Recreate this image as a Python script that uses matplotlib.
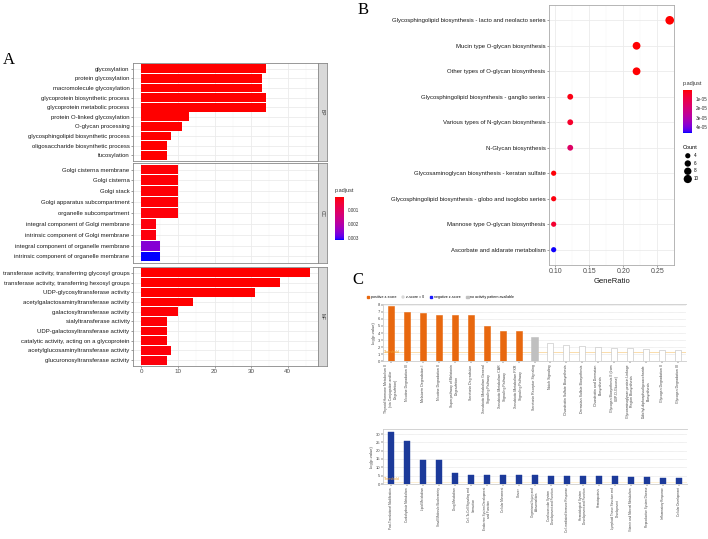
import numpy as np
import matplotlib
matplotlib.use("Agg")
import matplotlib.pyplot as plt
from matplotlib.colors import LinearSegmentedColormap, Normalize
from matplotlib.patches import Patch

plt.rcParams['font.family'] = ['Liberation Sans', 'DejaVu Sans']

# ==========================
# Data - panel A (GO enrichment, counts + p.adjust)
# ==========================
bp_terms = ["glycosylation", "protein glycosylation", "macromolecule glycosylation",
            "glycoprotein biosynthetic process", "glycoprotein metabolic process",
            "protein O-linked glycosylation", "O-glycan processing",
            "glycosphingolipid biosynthetic process", "oligosaccharide biosynthetic process",
            "fucosylation"]
bp_counts = [34, 33, 33, 34, 34, 13, 11, 8, 7, 7]
bp_padj = [1e-5, 1e-5, 1e-5, 1e-5, 1e-5, 2e-5, 2e-5, 3e-5, 4e-5, 5e-5]

cc_terms = ["Golgi cisterna membrane", "Golgi cisterna", "Golgi stack",
            "Golgi apparatus subcompartment", "organelle subcompartment",
            "integral component of Golgi membrane", "intrinsic component of Golgi membrane",
            "integral component of organelle membrane", "intrinsic component of organelle membrane"]
cc_counts = [10, 10, 10, 10, 10, 4, 4, 5, 5]
cc_padj = [1e-4, 1e-4, 1e-4, 1e-4, 1.2e-4, 1.5e-4, 1.5e-4, 0.0026, 0.00314]

mf_terms = ["transferase activity, transferring glycosyl groups",
            "transferase activity, transferring hexosyl groups",
            "UDP-glycosyltransferase activity", "acetylgalactosaminyltransferase activity",
            "galactosyltransferase activity", "sialyltransferase activity",
            "UDP-galactosyltransferase activity", "catalytic activity, acting on a glycoprotein",
            "acetylglucosaminyltransferase activity", "glucuronosyltransferase activity"]
mf_counts = [46, 38, 31, 14, 10, 7, 7, 7, 8, 7]
mf_padj = [7e-5, 7e-5, 7e-5, 8e-5, 1e-4, 1e-4, 1e-4, 1e-4, 1.2e-4, 1.3e-4]

# ==========================
# Data - panel B (KEGG dot plot)
# ==========================
kegg_terms = ["Glycosphingolipid biosynthesis - lacto and neolacto series",
              "Mucin type O-glycan biosynthesis",
              "Other types of O-glycan biosynthesis",
              "Glycosphingolipid biosynthesis - ganglio series",
              "Various types of N-glycan biosynthesis",
              "N-Glycan biosynthesis",
              "Glycosaminoglycan biosynthesis - keratan sulfate",
              "Glycosphingolipid biosynthesis - globo and isoglobo series",
              "Mannose type O-glycan biosynthesis",
              "Ascorbate and aldarate metabolism"]
kegg_count = [11, 9, 9, 5, 5, 5, 4, 4, 4, 4]
kegg_total = 41
kegg_padj = [3e-7, 5e-7, 5e-7, 2e-6, 5e-6, 1.6e-5, 1e-6, 1.5e-6, 6e-6, 4.6e-5]

# ==========================
# Data - panel C (IPA canonical pathways / functions)
# ==========================
ipa_paths = ["Thyroid Hormone Metabolism II\n(via Conjugation and/or\nDegradation)",
             "Nicotine Degradation III", "Melatonin Degradation I", "Nicotine Degradation II",
             "Superpathway of Melatonin\nDegradation", "Serotonin Degradation",
             "Xenobiotic Metabolism General\nSignaling Pathway",
             "Xenobiotic Metabolism CAR\nSignaling Pathway",
             "Xenobiotic Metabolism PXR\nSignaling Pathway",
             "Serotonin Receptor Signaling", "Notch Signaling",
             "Chondroitin Sulfate Biosynthesis", "Dermatan Sulfate Biosynthesis",
             "Chondroitin and Dermatan\nBiosynthesis",
             "Glycogen Biosynthesis II (from\nUDP-D-Glucose)",
             "Glycoaminoglycan-protein Linkage\nRegion Biosynthesis",
             "Dolichyl-diphosphooligosaccharide\nBiosynthesis",
             "Glycogen Degradation II", "Glycogen Degradation III"]
ipa_logp = [7.8, 6.9, 6.8, 6.6, 6.6, 6.5, 4.95, 4.35, 4.3, 3.5,
            2.56, 2.28, 2.2, 1.96, 1.87, 1.82, 1.73, 1.59, 1.54]
ipa_status = ["pos"] * 9 + ["na"] + ["zero"] * 9

ipa_funcs = ["Post-Translational Modification", "Carbohydrate Metabolism", "Lipid Metabolism",
             "Small Molecule Biochemistry", "Drug Metabolism",
             "Cell-To-Cell Signaling and\nInteraction",
             "Endocrine System Development\nand Function", "Cellular Movement", "Cancer",
             "Organismal Injury and\nAbnormalities",
             "Cardiovascular System\nDevelopment and Function",
             "Cell-mediated Immune Response",
             "Hematological System\nDevelopment and Function", "Hematopoiesis",
             "Lymphoid Tissue Structure and\nDevelopment",
             "Vitamin and Mineral Metabolism", "Reproductive System Disease",
             "Inflammatory Response", "Cellular Development"]
func_logp = [31.2, 25.6, 14.3, 14.3, 6.5, 5.6, 5.6, 5.6, 5.6, 5.6,
             4.6, 4.6, 4.6, 4.6, 4.6, 4.2, 4.0, 3.8, 3.6]

threshold = 1.3


# ==========================
# red -> blue gradient interpolated in Lab (like ggplot)
# ==========================
def to_lab(rgb):
    c = np.where(rgb <= 0.04045, rgb / 12.92, ((rgb + 0.055) / 1.055) ** 2.4)
    M = np.array([[0.4124, 0.3576, 0.1805], [0.2126, 0.7152, 0.0722], [0.0193, 0.1192, 0.9505]])
    xyz = M @ c / np.array([0.95047, 1.0, 1.08883])
    f = np.where(xyz > 0.008856, np.cbrt(xyz), 7.787 * xyz + 16 / 116)
    return np.array([116 * f[1] - 16, 500 * (f[0] - f[1]), 200 * (f[1] - f[2])])


def from_lab(lab):
    fy = (lab[0] + 16) / 116
    fx = fy + lab[1] / 500
    fz = fy - lab[2] / 200
    f = np.array([fx, fy, fz])
    xyz = np.where(f ** 3 > 0.008856, f ** 3, (f - 16 / 116) / 7.787) * np.array([0.95047, 1.0, 1.08883])
    Minv = np.linalg.inv(np.array([[0.4124, 0.3576, 0.1805], [0.2126, 0.7152, 0.0722], [0.0193, 0.1192, 0.9505]]))
    c = np.clip(Minv @ xyz, 0, 1)
    return np.clip(np.where(c <= 0.0031308, 12.92 * c, 1.055 * c ** (1 / 2.4) - 0.055), 0, 1)


lab_r = to_lab(np.array([1.0, 0, 0]))
lab_b = to_lab(np.array([0, 0, 1.0]))
cols = [from_lab(lab_r + t * (lab_b - lab_r)) for t in np.linspace(0, 1, 32)]
cmap = LinearSegmentedColormap.from_list("rb", cols)

W, H = 708, 539
fig = plt.figure(figsize=(W / 100, H / 100), dpi=100)


def px_axes(x0, y0, x1, y1):
    return fig.add_axes([x0 / W, 1 - y1 / H, (x1 - x0) / W, (y1 - y0) / H])


txt_col = "#1a1a1a"
grid_col = "#ebebeb"

# ==========================
# Panel A
# ==========================
normA = Normalize(vmin=0.00007, vmax=0.00314)
facets = [("BP", bp_terms, bp_counts, bp_padj, 63, 161),
          ("CC", cc_terms, cc_counts, cc_padj, 163, 263),
          ("MF", mf_terms, mf_counts, mf_padj, 267, 366)]
for name, terms, counts, padj, ytop, ybot in facets:
    ax = px_axes(133, ytop, 318, ybot)
    n = len(terms)
    ypos = np.arange(n, 0, -1)
    ax.barh(ypos, counts, height=0.9, color=cmap(normA(np.array(padj))), zorder=3)
    ax.set_xlim(-2.3, 48.3)
    ax.set_ylim(0.4, n + 0.6)
    ax.set_yticks(ypos)
    ax.set_yticklabels(terms, fontsize=4.3, color=txt_col)
    ax.set_xticks([0, 10, 20, 30, 40])
    ax.set_xticks([5, 15, 25, 35, 45], minor=True)
    ax.grid(True, which="major", color=grid_col, lw=0.6, zorder=0)
    ax.grid(True, which="minor", axis="x", color="#f3f3f3", lw=0.3, zorder=0)
    ax.tick_params(axis="both", length=1.5, width=0.4, color="#555555", pad=1)
    ax.tick_params(axis="x", which="minor", length=0)
    if name == "MF":
        ax.set_xticklabels(["0", "10", "20", "30", "40"], fontsize=4.5, color="#4d4d4d")
    else:
        ax.tick_params(axis="x", labelbottom=False, length=0)
    for s in ax.spines.values():
        s.set_color("#888888")
        s.set_linewidth(0.6)
    strip = px_axes(318, ytop, 327, ybot)
    strip.set_facecolor("#d9d9d9")
    strip.set_xticks([])
    strip.set_yticks([])
    for s in strip.spines.values():
        s.set_color("#888888")
        s.set_linewidth(0.6)
    strip.text(0.5, 0.5, name, rotation=-90, ha="center", va="center", fontsize=3.5, color="#333333")

caxA = px_axes(335, 197, 344, 240)
cbA = fig.colorbar(plt.cm.ScalarMappable(norm=normA, cmap=cmap), cax=caxA)
caxA.invert_yaxis()
cbA.set_ticks([0.001, 0.002, 0.003])
cbA.set_ticklabels(["0.001", "0.002", "0.003"])
cbA.outline.set_visible(False)
caxA.tick_params(labelsize=3.3, length=1.5, width=0.4, color="white", pad=1.5, labelcolor="#333333")
fig.text(335 / W, 1 - 193 / H, "p.adjust", fontsize=4, color="#333333", va="bottom")

# ==========================
# Panel B
# ==========================
normB = Normalize(vmin=3e-7, vmax=4.65e-5)
axB = px_axes(549, 5, 674, 265)
nk = len(kegg_terms)
yk = np.arange(nk, 0, -1)
ratio = np.array(kegg_count) / kegg_total
axB.scatter(ratio, yk, s=np.array(kegg_count) * 3.5, c=cmap(normB(np.array(kegg_padj))),
            edgecolors="none", zorder=3)
axB.set_xlim(0.0907, 0.2746)
axB.set_ylim(0.4, nk + 0.6)
axB.set_yticks(yk)
axB.set_yticklabels(kegg_terms, fontsize=4.3, color=txt_col)
axB.set_xticks([0.10, 0.15, 0.20, 0.25])
axB.set_xticklabels(["0.10", "0.15", "0.20", "0.25"], fontsize=5, color="#4d4d4d")
axB.set_xticks([0.125, 0.175, 0.225], minor=True)
axB.grid(True, which="major", color=grid_col, lw=0.6, zorder=0)
axB.grid(True, which="minor", axis="x", color="#f3f3f3", lw=0.3, zorder=0)
axB.tick_params(axis="both", length=1.5, width=0.4, color="#555555", pad=1)
axB.tick_params(axis="x", which="minor", length=0)
axB.set_xlabel("GeneRatio", fontsize=5.5, color=txt_col, labelpad=1.5)
for s in axB.spines.values():
    s.set_color("#aaaaaa")
    s.set_linewidth(0.6)

caxB = px_axes(683, 90, 692, 133)
cbB = fig.colorbar(plt.cm.ScalarMappable(norm=normB, cmap=cmap), cax=caxB)
caxB.invert_yaxis()
cbB.set_ticks([1e-5, 2e-5, 3e-5, 4e-5])
cbB.set_ticklabels(["1e-05", "2e-05", "3e-05", "4e-05"])
cbB.outline.set_visible(False)
caxB.tick_params(labelsize=3.3, length=1.5, width=0.4, color="white", pad=1.5, labelcolor="#333333")
fig.text(683 / W, 1 - 86 / H, "p.adjust", fontsize=4, color="#333333", va="bottom")

legend_counts = [4, 6, 8, 10]
handles = [plt.scatter([], [], s=c * 3.5, color="black", edgecolors="none") for c in legend_counts]
fig.legend(handles, [str(c) for c in legend_counts], title="Count", loc="upper left",
           bbox_to_anchor=(680 / W, 1 - 142 / H), frameon=False, fontsize=3.3,
           title_fontproperties={"size": 4}, labelspacing=0.6, handletextpad=0.3,
           borderpad=0.2, alignment="left")

# ==========================
# Panel C
# ==========================
bar_cols = {"pos": "#e8680f", "na": "#c0c0c0", "zero": "white"}
edge_cols = {"pos": "#e8680f", "na": "#c0c0c0", "zero": "#bdbdbd"}

axC1 = px_axes(383, 304, 686, 361.3)
xi = np.arange(len(ipa_paths))
axC1.bar(xi, ipa_logp, width=0.38, color=[bar_cols[s] for s in ipa_status],
         edgecolor=[edge_cols[s] for s in ipa_status], linewidth=0.4, zorder=3)
axC1.set_xlim(-0.5, len(ipa_paths) - 0.5)
axC1.set_ylim(0, 8.1)
axC1.set_yticks(range(0, 9))
axC1.set_xticks(xi)
axC1.set_xticklabels(ipa_paths, rotation=90, fontsize=2.5, color="#444444", ha="center", va="top",
                     multialignment="center")
axC1.axhline(threshold, color="#f8cf8a", lw=0.5, zorder=2)
axC1.text(-0.45, threshold, "Threshold", fontsize=2.5, color="#f0a030", va="center", zorder=4)
axC1.set_ylabel("-log(p-value)", fontsize=3, color="#444444", labelpad=1)
axC1.legend(handles=[Patch(facecolor="#e8680f", edgecolor="#e8680f", label="positive z-score"),
                     Patch(facecolor="white", edgecolor="#999999", lw=0.3, label="z-score = 0"),
                     Patch(facecolor="#1a1aff", edgecolor="#1a1aff", label="negative z-score"),
                     Patch(facecolor="#c0c0c0", edgecolor="#c0c0c0", label="no activity pattern available")],
            loc="center left", bbox_to_anchor=(-0.06, 1.12), ncol=4, frameon=False, fontsize=2.6,
            handlelength=0.7, handleheight=0.7, handletextpad=0.4, columnspacing=1.6, borderpad=0)

axC2 = px_axes(383, 429, 687, 484)
axC2.bar(xi, func_logp, width=0.38, color="#1c3a9a", edgecolor="#1c3a9a", linewidth=0.3, zorder=3)
axC2.set_xlim(-0.5, len(ipa_funcs) - 0.5)
axC2.set_ylim(0, 33)
axC2.set_yticks(range(0, 31, 5))
axC2.set_xticks(xi)
axC2.set_xticklabels(ipa_funcs, rotation=90, fontsize=2.2, color="#444444", ha="center", va="top",
                     multialignment="center")
axC2.axhline(threshold, color="#fbe3b8", lw=0.4, zorder=2)
axC2.text(-0.45, 3, "Threshold", fontsize=2.5, color="#f0a030", va="center", zorder=4)
axC2.set_ylabel("-log(p-value)", fontsize=3, color="#444444", labelpad=1)

for ax in (axC1, axC2):
    ax.yaxis.grid(True, ls=(0, (1, 1)), color="#cfcfcf", lw=0.4, zorder=0)
    ax.tick_params(axis="y", labelsize=3, length=1.2, width=0.3, pad=1, labelcolor="#444444")
    ax.tick_params(axis="x", length=1.2, width=0.3, pad=1)
    for s in ax.spines.values():
        s.set_color("#cccccc")
        s.set_linewidth(0.6)
    ax.spines["right"].set_visible(False)

# panel letters
fig.text(3 / W, 1 - 64 / H, "A", fontsize=12, family="Liberation Serif")
fig.text(358 / W, 1 - 14 / H, "B", fontsize=12, family="Liberation Serif")
fig.text(352 / W, 1 - 284 / H, "C", fontsize=12, family="Liberation Serif")

fig.savefig("out.png", dpi=100)
